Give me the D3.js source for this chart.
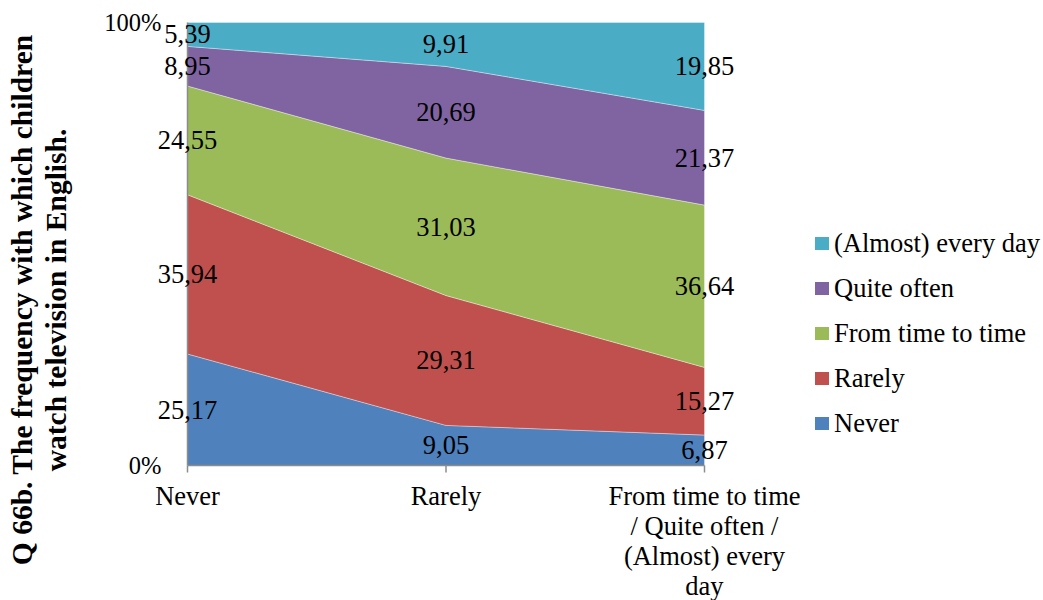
<!DOCTYPE html>
<html>
<head>
<meta charset="utf-8">
<script src="https://cdn.jsdelivr.net/npm/d3@7"></script>
<style>
	body { margin: 0; background: #fff; }
</style>
</head>
<body>
<div id="chart"></div>
<script>
'use strict';

// categories on the x axis (each may wrap over several lines)
var categories = [
	["Never"],
	["Rarely"],
	["From time to time", "/ Quite often /", "(Almost) every", "day"]
];

// series, bottom to top
var seriesNames = ["Never", "Rarely", "From time to time", "Quite often", "(Almost) every day"];
var seriesColors = ["#4F81BD", "#C0504D", "#9BBB59", "#8064A2", "#4BACC6"];

var never        = [25.17, 9.05, 6.87];
var rarely       = [35.94, 29.31, 15.27];
var timeToTime   = [24.55, 31.03, 36.64];
var quiteOften   = [8.95, 20.69, 21.37];
var almostDaily  = [5.39, 9.91, 19.85];

var yTicks = ["0%", "100%"];

var titleLines = ["Q 66b. The frequency with which children", "watch television in English."];

var W = 1043, H = 600;
var margin = { left: 187.5, right: 1043 - 704.5, top: 22.5, bottom: 600 - 465.5 };
var FONT = "'Liberation Serif', 'Times New Roman', Times, serif";

var svg = d3.select("#chart").append("svg")
	.attr("width", W)
	.attr("height", H)
	.attr("font-family", FONT)
	.style("font-family", FONT);

var rows = [never, rarely, timeToTime, quiteOften, almostDaily];

// table: one record per category
var table = categories.map(function(c, i) {
	var r = { idx: i };
	seriesNames.forEach(function(s, j) { r[s] = rows[j][i]; });
	return r;
});

var stack = d3.stack().keys(seriesNames).offset(d3.stackOffsetExpand);
var layers = stack(table);

var x = d3.scalePoint()
	.domain(d3.range(categories.length))
	.range([margin.left, W - margin.right]);

var y = d3.scaleLinear()
	.domain([0, 1])
	.range([H - margin.bottom, margin.top]);

var area = d3.area()
	.x(function(d) { return x(d.data.idx); })
	.y0(function(d) { return y(d[0]); })
	.y1(function(d) { return y(d[1]); });

var gArea = svg.append("g").attr("class", "areas");
gArea.selectAll("path")
	.data(layers)
	.enter().append("path")
	.attr("d", area)
	.attr("fill", function(d, i) { return seriesColors[i]; })
	.attr("stroke", "rgba(255,255,255,0.45)")
	.attr("stroke-width", 0.8);

// axes
var gAxis = svg.append("g").attr("class", "axis");
gAxis.append("line")
	.attr("x1", margin.left).attr("x2", margin.left)
	.attr("y1", y(1)).attr("y2", y(0))
	.attr("stroke", "#8c8c8c").attr("stroke-width", 1.5);
gAxis.append("line")
	.attr("x1", margin.left).attr("x2", W - margin.right)
	.attr("y1", y(0)).attr("y2", y(0))
	.attr("stroke", "#8c8c8c").attr("stroke-width", 1.5);
gAxis.selectAll("line.xt")
	.data(d3.range(categories.length))
	.enter().append("line")
	.attr("class", "xt")
	.attr("x1", function(d) { return x(d); }).attr("x2", function(d) { return x(d); })
	.attr("y1", y(0)).attr("y2", y(0) + 7)
	.attr("stroke", "#8c8c8c").attr("stroke-width", 1.5);

gAxis.selectAll("text.yt")
	.data(yTicks)
	.enter().append("text")
	.attr("class", "yt")
	.attr("x", margin.left - 26)
	.attr("y", function(d, i) { return y(i) + 8; })
	.attr("text-anchor", "end")
	.attr("font-size", 24.5)
	.text(function(d) { return d; });

// category labels
var gCat = svg.append("g").attr("class", "cats");
categories.forEach(function(lines, i) {
	var t = gCat.append("text")
		.attr("x", x(i))
		.attr("y", y(0) + 39)
		.attr("text-anchor", "middle")
		.attr("font-size", 26.5);
	lines.forEach(function(l, k) {
		t.append("tspan")
			.attr("x", x(i))
			.attr("dy", k === 0 ? 0 : 30)
			.text(l);
	});
});

// data labels
var gLab = svg.append("g").attr("class", "labels");
layers.forEach(function(layer, j) {
	gLab.selectAll("text.s" + j)
		.data(layer)
		.enter().append("text")
		.attr("class", "s" + j)
		.attr("x", function(d) { return x(d.data.idx); })
		.attr("y", function(d) { return y((d[0] + d[1]) / 2) + 9; })
		.attr("text-anchor", "middle")
		.attr("font-size", 26.5)
		.text(function(d) { return rows[j][d.data.idx].toFixed(2).replace(".", ","); });
});

// legend
var legendItems = seriesNames.slice().reverse();
var legendColors = seriesColors.slice().reverse();
var gLeg = svg.append("g").attr("class", "legend").attr("transform", "translate(815,237)");
legendItems.forEach(function(name, i) {
	var g = gLeg.append("g").attr("transform", "translate(0," + (i * 45) + ")");
	g.append("rect").attr("width", 14).attr("height", 13).attr("fill", legendColors[i]);
	g.append("text").attr("x", 19).attr("y", 15).attr("font-size", 26.5).text(name);
});

// y axis title
svg.append("text")
	.attr("transform", "translate(32,300) rotate(-90)")
	.attr("text-anchor", "middle")
	.attr("font-size", 29.5)
	.attr("font-weight", "bold")
	.selectAll("tspan")
	.data(titleLines)
	.enter().append("tspan")
	.attr("x", 0)
	.attr("dy", function(d, i) { return i === 0 ? 0 : 34; })
	.text(function(d) { return d; });
</script>
</body>
</html>
